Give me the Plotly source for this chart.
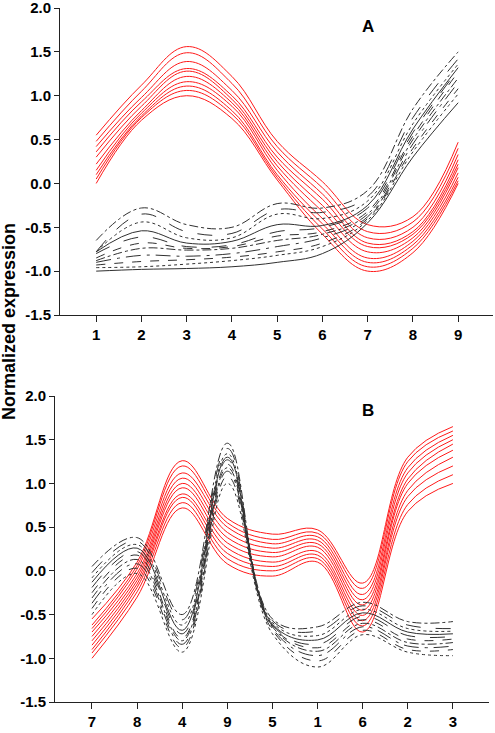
import plotly.graph_objects as go

# ---------------- data ----------------
x_a = [1, 2, 3, 4, 5, 6, 7, 8, 9]
x_a_labels = ["1", "2", "3", "4", "5", "6", "7", "8", "9"]

red_a = [
    [0.55, 1.12, 1.56, 1.22, 0.48, 0.02, -0.47, -0.38, 0.47],
    [0.48, 1.05, 1.49, 1.14, 0.42, -0.05, -0.55, -0.44, 0.40],
    [0.42, 0.98, 1.39, 1.06, 0.36, -0.12, -0.62, -0.50, 0.33],
    [0.36, 0.93, 1.31, 1.00, 0.30, -0.18, -0.68, -0.55, 0.27],
    [0.30, 0.88, 1.28, 0.96, 0.25, -0.25, -0.72, -0.58, 0.22],
    [0.22, 0.83, 1.22, 0.92, 0.20, -0.32, -0.78, -0.62, 0.18],
    [0.15, 0.80, 1.16, 0.88, 0.15, -0.40, -0.85, -0.66, 0.12],
    [0.10, 0.77, 1.11, 0.83, 0.10, -0.46, -0.90, -0.70, 0.07],
    [0.05, 0.75, 1.06, 0.79, 0.07, -0.52, -0.95, -0.74, 0.03],
    [0.00, 0.72, 1.00, 0.74, 0.04, -0.58, -1.00, -0.79, 0.00],
]

black_a = [
    [-0.65, -0.28, -0.47, -0.50, -0.23, -0.28, -0.08, 0.85, 1.50],
    [-0.78, -0.35, -0.55, -0.57, -0.30, -0.33, -0.15, 0.75, 1.42],
    [-0.78, -0.44, -0.62, -0.62, -0.35, -0.40, -0.20, 0.68, 1.36],
    [-0.78, -0.54, -0.68, -0.66, -0.47, -0.48, -0.25, 0.62, 1.32],
    [-0.80, -0.61, -0.72, -0.70, -0.55, -0.50, -0.28, 0.58, 1.30],
    [-0.85, -0.68, -0.74, -0.72, -0.60, -0.55, -0.32, 0.54, 1.27],
    [-0.88, -0.74, -0.76, -0.74, -0.65, -0.58, -0.35, 0.50, 1.20],
    [-0.90, -0.82, -0.83, -0.80, -0.72, -0.62, -0.38, 0.45, 1.15],
    [-0.93, -0.89, -0.87, -0.84, -0.78, -0.68, -0.40, 0.40, 1.08],
    [-0.96, -0.95, -0.92, -0.88, -0.82, -0.72, -0.42, 0.36, 1.02],
    [-1.00, -0.98, -0.97, -0.95, -0.90, -0.80, -0.45, 0.30, 0.92],
]

x_b = [1, 2, 3, 4, 5, 6, 7, 8, 9]
x_b_labels = ["7", "8", "4", "9", "5", "1", "6", "2", "3"]

red_b = [
    [-0.55, 0.10, 1.26, 0.60, 0.42, 0.47, -0.14, 1.30, 1.65],
    [-0.62, 0.06, 1.20, 0.55, 0.36, 0.43, -0.20, 1.25, 1.60],
    [-0.66, 0.02, 1.12, 0.50, 0.31, 0.39, -0.27, 1.18, 1.55],
    [-0.70, -0.03, 1.06, 0.44, 0.26, 0.35, -0.33, 1.12, 1.50],
    [-0.75, -0.07, 1.00, 0.38, 0.21, 0.31, -0.39, 1.05, 1.45],
    [-0.80, -0.11, 0.95, 0.32, 0.16, 0.27, -0.45, 1.00, 1.38],
    [-0.85, -0.15, 0.88, 0.26, 0.10, 0.22, -0.51, 0.92, 1.30],
    [-0.90, -0.19, 0.84, 0.20, 0.05, 0.18, -0.57, 0.85, 1.20],
    [-0.94, -0.24, 0.78, 0.14, 0.00, 0.14, -0.63, 0.76, 1.10],
    [-1.00, -0.30, 0.72, 0.08, -0.06, 0.10, -0.70, 0.68, 1.00],
]

black_b = [
    [0.05, 0.38, -0.50, 1.46, -0.55, -0.64, -0.36, -0.58, -0.58],
    [-0.02, 0.34, -0.56, 1.40, -0.57, -0.69, -0.40, -0.62, -0.66],
    [-0.08, 0.30, -0.62, 1.34, -0.59, -0.74, -0.44, -0.66, -0.69],
    [-0.13, 0.26, -0.68, 1.30, -0.61, -0.79, -0.48, -0.70, -0.72],
    [-0.19, 0.22, -0.72, 1.27, -0.62, -0.84, -0.52, -0.74, -0.75],
    [-0.25, 0.18, -0.77, 1.22, -0.63, -0.88, -0.56, -0.78, -0.78],
    [-0.31, 0.13, -0.80, 1.18, -0.64, -0.92, -0.60, -0.82, -0.82],
    [-0.37, 0.08, -0.84, 1.14, -0.66, -0.97, -0.64, -0.86, -0.86],
    [-0.43, 0.03, -0.88, 1.08, -0.68, -1.03, -0.68, -0.90, -0.90],
    [-0.50, -0.03, -0.93, 1.00, -0.72, -1.10, -0.73, -0.93, -0.97],
]

y_ticks = [-1.5, -1.0, -0.5, 0.0, 0.5, 1.0, 1.5, 2.0]
y_tick_labels = ["-1.5", "-1.0", "-0.5", "0.0", "0.5", "1.0", "1.5", "2.0"]

y_title = "Normalized expression"
panel_titles = ["A", "B"]

# ---------------- styles ----------------
RED = "#ff1a1a"
BLACK = "#303030"
dashes = ["dashdot", "longdash", "dot", "solid", "longdash", "dash",
          "dashdot", "longdashdot", "dash", "dot", "solid"]

W, H = 495, 733
FONT = "Liberation Sans, Arial, sans-serif"

fig = go.Figure()

def add_panel(xs, reds, blacks, xa, ya):
    for r in reds:
        fig.add_trace(go.Scatter(x=xs, y=r, mode="lines", xaxis=xa, yaxis=ya,
                                 line=dict(color=RED, width=1, shape="spline", smoothing=1.1),
                                 showlegend=False, hoverinfo="skip"))
    for i, b in enumerate(blacks):
        fig.add_trace(go.Scatter(x=xs, y=b, mode="lines", xaxis=xa, yaxis=ya,
                                 line=dict(color=BLACK, width=1, dash=dashes[i % len(dashes)],
                                           shape="spline", smoothing=1.1),
                                 showlegend=False, hoverinfo="skip"))

add_panel(x_a, red_a, black_a, "x", "y")
add_panel(x_b, red_b, black_b, "x2", "y2")

tickfont = dict(family=FONT, size=15, color="black")
common_x = dict(showgrid=False, zeroline=False, showline=True, linecolor="#222",
                linewidth=1, ticks="outside", ticklen=6, tickcolor="#222",
                tickfont=tickfont, tickvals=x_a, automargin=False,
                ticklabeloverflow="allow")
common_y = dict(showgrid=False, zeroline=False, showline=True, linecolor="#222",
                linewidth=1, ticks="outside", ticklen=5, tickcolor="#222",
                tickfont=tickfont, range=[-1.5, 2.0], tickvals=y_ticks,
                automargin=False, ticklabeloverflow="allow",
                ticktext=["<b>%s</b>" % t for t in y_tick_labels])

fig.update_layout(
    width=W, height=H, margin=dict(l=0, r=0, t=0, b=0, autoexpand=False),
    paper_bgcolor="white", plot_bgcolor="white",
    xaxis=dict(common_x, domain=[60 / W, 493 / W], range=[0.2, 9.77],
               ticktext=["<b>%s</b>" % t for t in x_a_labels], anchor="y"),
    yaxis=dict(common_y, domain=[1 - 315 / H, 1 - 8 / H], anchor="x"),
    xaxis2=dict(common_x, domain=[55 / W, 489 / W], range=[0.18, 9.8],
                ticktext=["<b>%s</b>" % t for t in x_b_labels], anchor="y2"),
    yaxis2=dict(common_y, domain=[1 - 702 / H, 1 - 396 / H], anchor="x2"),
    annotations=[
        dict(text="<b>%s</b>" % y_title, xref="paper", yref="paper",
             x=9 / W, y=1 - 322 / H, xanchor="center", yanchor="middle",
             textangle=-90, showarrow=False,
             font=dict(family=FONT, size=18, color="black")),
        dict(text="<b>%s</b>" % panel_titles[0], xref="paper", yref="paper",
             x=368 / W, y=1 - 27 / H, xanchor="center", yanchor="middle",
             showarrow=False, font=dict(family=FONT, size=17, color="black")),
        dict(text="<b>%s</b>" % panel_titles[1], xref="paper", yref="paper",
             x=368 / W, y=1 - 410 / H, xanchor="center", yanchor="middle",
             showarrow=False, font=dict(family=FONT, size=17, color="black")),
    ],
)

fig.write_html("out.html", config={"displayModeBar": False},
               post_script="document.body.style.margin='0';document.body.style.overflow='hidden';")
